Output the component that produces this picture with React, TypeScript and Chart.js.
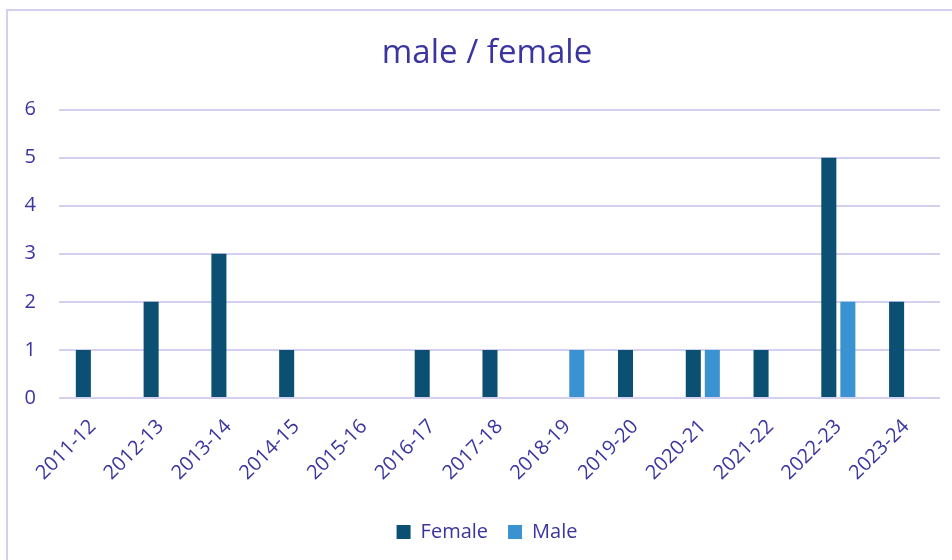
import React, { useEffect, useRef } from "react";
import { Chart, registerables } from "chart.js";

Chart.register(...registerables);

const categories = ["2011-12", "2012-13", "2013-14", "2014-15", "2015-16", "2016-17", "2017-18", "2018-19", "2019-20", "2020-21", "2021-22", "2022-23", "2023-24"];
const female = [1, 2, 3, 1, 0, 1, 1, 0, 1, 1, 1, 5, 2];
const male = [0, 0, 0, 0, 0, 0, 0, 1, 0, 1, 0, 2, 0];
const yTicks = [0, 1, 2, 3, 4, 5, 6];

const TEXT = "#3b35a0";
const FONT = "'Open Sans', 'Noto Sans', sans-serif";

export default function App() {
  const ref = useRef<HTMLCanvasElement>(null);
  useEffect(() => {
    document.body.style.margin = "0";
    const chart = new Chart(ref.current!, {
      type: "bar",
      data: {
        labels: categories,
        datasets: [
          { label: "Female", data: female.map((v) => (v === 0 ? null : v)), backgroundColor: "#0b5073", categoryPercentage: 0.562, barPercentage: 0.79 },
          { label: "Male", data: male.map((v) => (v === 0 ? null : v)), backgroundColor: "#3a93d0", categoryPercentage: 0.562, barPercentage: 0.79 },
        ],
      },
      options: {
        animation: false,
        responsive: false,
        devicePixelRatio: 1,
        layout: { padding: { left: 24, right: 2, top: 0, bottom: 8 } },
        plugins: {
          title: {
            display: true,
            text: "male / female",
            color: TEXT,
            font: { family: FONT, size: 33, weight: "normal", lineHeight: 1.2 },
            padding: { top: 34, bottom: 36 },
          },
          legend: {
            position: "bottom",
            labels: {
              color: TEXT,
              font: { family: FONT, size: 20 },
              boxWidth: 14,
              boxHeight: 14,
              padding: 20,
            },
          },
          tooltip: { enabled: false },
        },
        scales: {
          x: {
            grid: { display: false, drawTicks: false },
            border: { display: false },
            ticks: { color: TEXT, font: { family: FONT, size: 20 }, maxRotation: 45, minRotation: 45, padding: 17, autoSkip: false },
            afterFit: (scale: any) => {
              scale.paddingLeft = 0;
              scale.paddingRight = 12;
            },
          },
          y: {
            min: 0,
            max: 6,
            afterBuildTicks: (axis: any) => {
              axis.ticks = yTicks.map((v) => ({ value: v }));
            },
            afterFit: (scale: any) => {
              scale.width = 35;
              scale.paddingLeft = 0;
            },
            grid: { color: "#d4d0f0", lineWidth: 2, drawTicks: false },
            border: { display: false },
            ticks: { color: TEXT, font: { family: FONT, size: 20 }, padding: 23 },
          },
        },
      },
    });
    return () => chart.destroy();
  }, []);
  return (
    <div style={{ position: "relative", width: 952, height: 560, background: "#fff", overflow: "hidden" }}>
      <div style={{ position: "absolute", left: 6, top: 9, width: 1000, height: 600, border: "2px solid #d4d0f0", boxSizing: "border-box" }} />
      <canvas ref={ref} width={952} height={560} style={{ position: "absolute", left: 0, top: 0 }} />
    </div>
  );
}
